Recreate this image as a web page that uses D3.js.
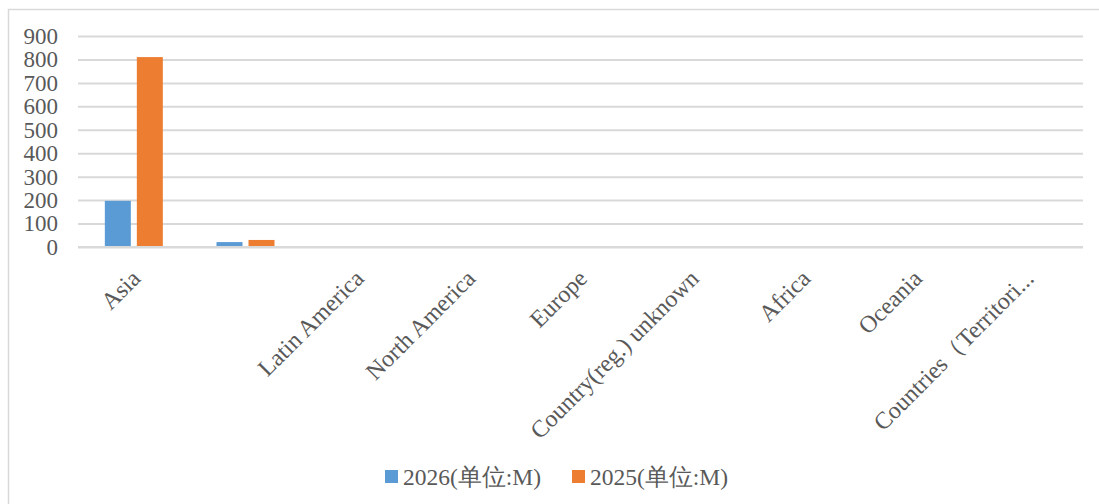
<!DOCTYPE html>
<html>
<head>
<meta charset="utf-8">
<script src="https://cdn.jsdelivr.net/npm/d3@7"></script>
<style>
  body { margin: 0; background: #fff; }
  svg { display: block; }
</style>
</head>
<body>
<svg id="chart" width="1099" height="504"></svg>
<script>
const categories = ["Asia", "", "Latin America", "North America", "Europe", "Country(reg.) unknown", "Africa", "Oceania", "Countries（Territori..."];
const series2026 = [197, 21, 3, 0, 0, 0, 0, 0, 0];
const series2025 = [810, 30, 0, 0, 4, 0, 0, 0, 0];
const seriesNames = ["2026(单位:M)", "2025(单位:M)"];
const seriesColors = ["#5b9bd5", "#ed7d31"];
const yTicks = [0, 100, 200, 300, 400, 500, 600, 700, 800, 900];

const svg = d3.select("#chart");
const W = 1099, H = 504;
const m = {left: 78, right: 16, top: 36, bottom: 257};
const plotW = W - m.left - m.right;   // ends at 1083
const y0 = 247;

svg.append("rect").attr("x", 8.5).attr("y", 9.5).attr("width", 1100).attr("height", 510)
  .attr("fill", "#fff").attr("stroke", "#d9d9d9").attr("stroke-width", 1.5);

const x = d3.scaleBand().domain(d3.range(categories.length)).range([m.left, m.left + plotW]).padding(0);
const y = d3.scaleLinear().domain([0, 900]).range([y0, m.top]);

const font = "'Liberation Serif','Times New Roman',serif";

// gridlines
svg.append("g")
  .attr("transform", `translate(${m.left},0)`)
  .call(d3.axisLeft(y).tickValues(yTicks).tickSize(-plotW).tickFormat(""))
  .call(g => g.select(".domain").remove())
  .call(g => g.selectAll("line").attr("stroke", "#d9d9d9").attr("stroke-width", 2));

// y labels
svg.append("g")
  .attr("transform", `translate(${m.left},0)`)
  .call(d3.axisLeft(y).tickValues(yTicks).tickSize(0).tickPadding(20))
  .call(g => g.select(".domain").remove())
  .call(g => g.selectAll("text").attr("font-family", font).attr("font-size", 23).attr("fill", "#595959"));

// bars
const barW = 26, gap = 6;
const data = categories.map((c, i) => ({i, vals: [series2026[i], series2025[i]]}));
const grp = svg.append("g");
[0, 1].forEach(s => {
  grp.selectAll(".b" + s).data(data).enter().append("rect")
    .attr("x", d => x(d.i) + x.bandwidth() / 2 - gap / 2 - barW + s * (barW + gap))
    .attr("y", d => y(d.vals[s]))
    .attr("width", barW)
    .attr("height", d => y0 - y(d.vals[s]))
    .attr("fill", seriesColors[s]);
});

// x axis line
svg.append("line").attr("x1", m.left).attr("x2", m.left + plotW).attr("y1", y0).attr("y2", y0)
  .attr("stroke", "#d9d9d9").attr("stroke-width", 2);

// x labels
const xa = svg.append("g").attr("transform", `translate(0,${y0})`)
  .call(d3.axisBottom(x).tickSize(0).tickFormat(i => categories[i]));
xa.select(".domain").remove();
xa.selectAll("text")
  .attr("font-family", font).attr("font-size", 24).attr("fill", "#595959")
  .attr("text-anchor", "end")
  .attr("y", 0)
  .attr("dy", "0")
  .attr("transform", "translate(8,33) rotate(-45)");

// legend
const legend = svg.append("g").attr("transform", "translate(385,470)");
const lx = [0, 187];
seriesNames.forEach((n, i) => {
  legend.append("rect").attr("x", lx[i]).attr("y", 0).attr("width", 13).attr("height", 13).attr("fill", seriesColors[i]);
  legend.append("text").attr("x", lx[i] + 18).attr("y", 15).text(n)
    .attr("font-family", font).attr("font-size", 23.5).attr("fill", "#595959");
});
</script>
</body>
</html>
